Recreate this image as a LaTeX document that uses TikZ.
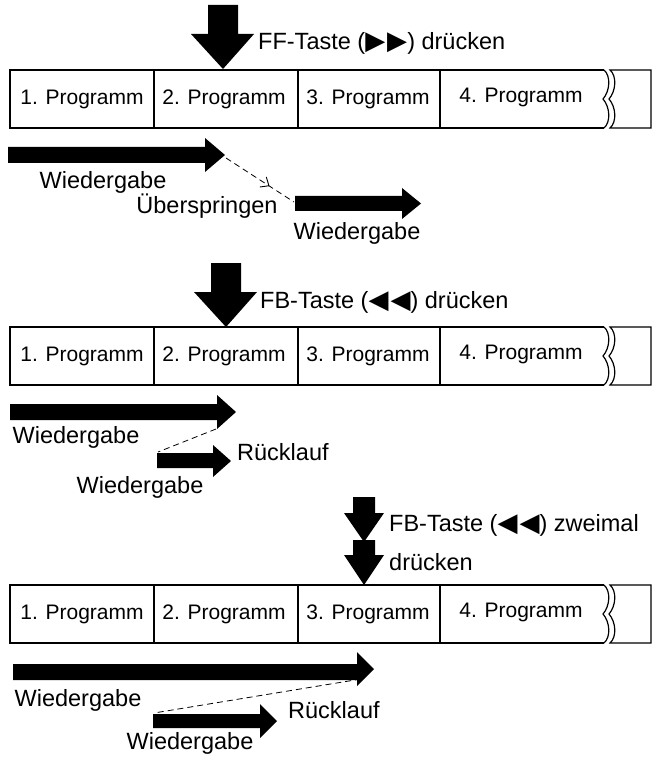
\documentclass[tikz,border=0pt]{standalone}
\usepackage{fontspec}
\setmainfont{Liberation Sans}
\newfontfamily\symfnt{DejaVu Sans}
\newcommand{\trgl}[2]{{\symfnt\fontsize{26}{26}\selectfont #1\kern2pt#2}}
\usetikzlibrary{arrows.meta,decorations.markings}
\begin{document}
\begin{tikzpicture}[x=1pt,y=-1pt,
  tapeline/.style={line width=1.2pt},
  cell/.style={font=\fontsize{21}{25}\selectfont,inner sep=0pt},
  lbl/.style={font=\fontsize{23.5}{28}\selectfont,inner sep=0pt},
  blk/.style={fill=black},
  dashline/.style={line width=0.8pt,dash pattern=on 6pt off 4pt},
  pics/tapestrip/.style={code={
    \draw[tapeline] (604,0) -- (10,0) -- (10,58) -- (604,58);
    \draw[tapeline] (154,0) -- (154,58) (298,0) -- (298,58) (440,0) -- (440,58);
    \draw[tapeline] (604,0) .. controls (611,6) and (610,21) .. (603,29) .. controls (610,37) and (611,52) .. (604,58);
    \draw[tapeline] (610,0) .. controls (617,6) and (616,21) .. (609,29) .. controls (616,37) and (617,52) .. (610,58) -- (651,58) -- (651,0) -- cycle;
    \node[cell] (-c1) at (82,29) {1. Programm};
    \node[cell] (-c2) at (224,29) {2. Programm};
    \node[cell] (-c3) at (368,29) {3. Programm};
    \node[cell] (-c4) at (521,27) {4. Programm};
  }}]
\useasboundingbox (0,0) rectangle (660,759);

% ---------- Panel 1 ----------
\fill[blk] (208,5) -- (238,5) -- (238,34) -- (254,34) -- (223,69) -- (191,34) -- (208,34) -- cycle;
\node[lbl,anchor=west] (ff) at (258,43) {FF-Taste (\trgl{▶}{▶}) drücken};
\pic (t1) at (0,70) {tapestrip};
\fill[blk] (8,147) -- (205,147) -- (205,138) -- (225,155) -- (205,172) -- (205,163) -- (8,163) -- cycle;
\coordinate (a1tip) at (226,158);
\node[lbl] (w1a) at (103,182) {Wiedergabe};
\fill[blk] (295,196) -- (402,196) -- (402,188) -- (421,203.5) -- (402,219) -- (402,211) -- (295,211) -- cycle;
\coordinate (a2start) at (294,202);
\draw[dashline,postaction={decorate},decoration={markings,mark=at position 0.64 with {\arrow[solid]{Straight Barb[length=7pt,width=12pt,line width=0.9pt]}}}] (a1tip) -- (a2start);
\node[lbl] (ueb) at (207,206) {Überspringen};
\node[lbl] (w1b) at (357,233) {Wiedergabe};

% ---------- Panel 2 ----------
\fill[blk] (211,263) -- (241,263) -- (241,292) -- (257,292) -- (226,327) -- (194,292) -- (211,292) -- cycle;
\node[lbl,anchor=west] (fb) at (260,302) {FB-Taste (\trgl{◀}{◀}) drücken};
\pic (t2) at (0,327) {tapestrip};
\fill[blk] (10,404) -- (217,404) -- (217,395) -- (236,412) -- (217,429) -- (217,420) -- (10,420) -- cycle;
\coordinate (b1low) at (216,429);
\node[lbl] (w2a) at (76,437) {Wiedergabe};
\fill[blk] (157,453) -- (213,453) -- (213,445) -- (231,461) -- (213,477) -- (213,468) -- (157,468) -- cycle;
\coordinate (b2start) at (158,452);
\draw[dashline] (b1low) -- (b2start);
\node[lbl,anchor=west] (rl2) at (237,452) {Rücklauf};
\node[lbl] (w2b) at (140,487) {Wiedergabe};

% ---------- Panel 3 ----------
\fill[blk] (353,497) -- (375,497) -- (375,513) -- (384,513) -- (364,542) -- (344,513) -- (353,513) -- cycle;
\fill[blk] (353,540) -- (375,540) -- (375,555) -- (384,555) -- (364,585) -- (344,555) -- (353,555) -- cycle;
\node[lbl,anchor=west] (fb2) at (389,525) {FB-Taste (\trgl{◀}{◀}) zweimal};
\node[lbl,anchor=west] (dr2) at (389,562) {drücken};
\pic (t3) at (0,585) {tapestrip};
\fill[blk] (13,664) -- (357,664) -- (357,652) -- (374,669) -- (357,686) -- (357,680) -- (13,680) -- cycle;
\coordinate (c1low) at (361,679);
\node[lbl] (w3a) at (78,700) {Wiedergabe};
\fill[blk] (153,714) -- (260,714) -- (260,704) -- (277,721) -- (260,738) -- (260,728) -- (153,728) -- cycle;
\coordinate (c2start) at (154,713);
\draw[dashline] (c1low) -- (c2start);
\node[lbl,anchor=west] (rl3) at (288,710) {Rücklauf};
\node[lbl] (w3b) at (190,743) {Wiedergabe};
\end{tikzpicture}
\end{document}
